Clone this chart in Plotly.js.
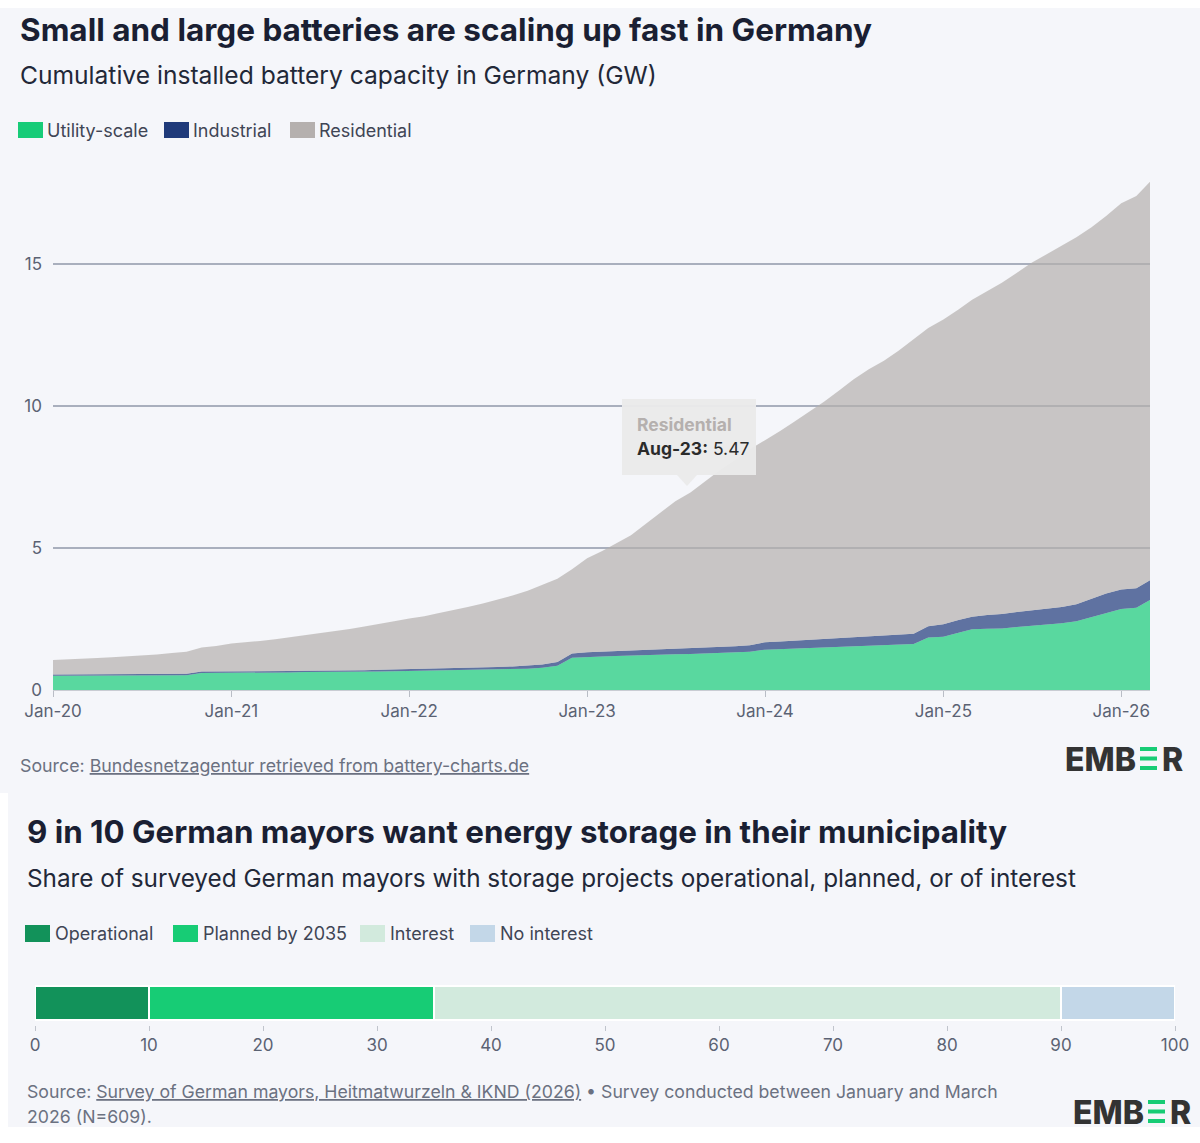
<!DOCTYPE html>
<html>
<head>
<meta charset="utf-8">
<script src="https://cdn.plot.ly/plotly-3.0.1.min.js"></script>
<style>
  html, body { margin: 0; padding: 0; background: #ffffff; }
  #chart { width: 1200px; height: 1143px; }
</style>
</head>
<body>
<div id="chart"></div>
<script>
// ---------------- DATA: chart 1 (monthly, Jan-2020 .. Mar-2026, GW) ----------------
const startYear = 2020;
const seriesNames = ['Utility-scale', 'Industrial', 'Residential'];
const utilityScale = [
  0.50, 0.50, 0.50, 0.50, 0.50, 0.51, 0.51, 0.51, 0.51, 0.52, 0.60, 0.60,
  0.61, 0.61, 0.62, 0.62, 0.62, 0.63, 0.63, 0.63, 0.64, 0.64, 0.65, 0.66,
  0.67, 0.67, 0.68, 0.69, 0.70, 0.71, 0.72, 0.73, 0.75, 0.78, 0.85, 1.14,
  1.17, 1.18, 1.20, 1.22, 1.23, 1.25, 1.26, 1.27, 1.29, 1.30, 1.31, 1.35,
  1.42, 1.44, 1.46, 1.47, 1.49, 1.50, 1.52, 1.54, 1.56, 1.58, 1.62, 1.85,
  1.88, 2.02, 2.14, 2.16, 2.17, 2.22, 2.26, 2.30, 2.35, 2.42, 2.56, 2.72,
  2.85, 2.90, 3.17
];
const industrial = [
  0.05, 0.05, 0.05, 0.05, 0.05, 0.05, 0.05, 0.05, 0.05, 0.05, 0.05, 0.05,
  0.05, 0.05, 0.05, 0.05, 0.05, 0.05, 0.05, 0.06, 0.06, 0.06, 0.06, 0.06,
  0.07, 0.07, 0.07, 0.07, 0.08, 0.09, 0.09, 0.10, 0.11, 0.12, 0.14, 0.15,
  0.16, 0.17, 0.18, 0.19, 0.20, 0.20, 0.21, 0.22, 0.21, 0.22, 0.23, 0.23,
  0.26, 0.27, 0.28, 0.30, 0.31, 0.33, 0.34, 0.35, 0.35, 0.36, 0.36, 0.40,
  0.44, 0.45, 0.44, 0.48, 0.51, 0.53, 0.54, 0.55, 0.57, 0.60, 0.64, 0.68,
  0.69, 0.68, 0.70
];
const residential = [
  0.51, 0.54, 0.56, 0.58, 0.60, 0.62, 0.65, 0.69, 0.74, 0.78, 0.85, 0.90,
  0.98, 1.02, 1.06, 1.12, 1.19, 1.24, 1.31, 1.38, 1.45, 1.54, 1.61, 1.70,
  1.78, 1.86, 1.95, 2.04, 2.14, 2.25, 2.37, 2.50, 2.64, 2.80, 2.93, 2.96,
  3.31, 3.55, 3.77, 4.04, 4.42, 4.80, 5.18, 5.47, 5.85, 6.23, 6.56, 6.90,
  7.12, 7.41, 7.71, 8.03, 8.35, 8.72, 9.09, 9.41, 9.69, 10.01, 10.37, 10.50,
  10.73, 10.93, 11.17, 11.41, 11.67, 11.95, 12.25, 12.50, 12.73, 12.93, 13.10, 13.30,
  13.61, 13.82, 14.03
];
const xTickLabels = ['Jan-20', 'Jan-21', 'Jan-22', 'Jan-23', 'Jan-24', 'Jan-25', 'Jan-26'];
const xTickDates  = ['2020-01-01', '2021-01-01', '2022-01-01', '2023-01-01', '2024-01-01', '2025-01-01', '2026-01-01'];
const yTickVals = [0, 5, 10, 15];
const tooltipLabel = 'Aug-23';
const tooltipIndex = 43;

// ---------------- DATA: chart 2 (survey shares, %) ----------------
const surveyCategories = ['Operational', 'Planned by 2035', 'Interest', 'No interest'];
const surveyShares = [10, 25, 55, 10];
const surveyTicks = [0, 10, 20, 30, 40, 50, 60, 70, 80, 90, 100];

// ---------------- STYLE ----------------
const seriesColors = ['#17cc78', '#1f3a7a', '#b5b0ae'];
const surveyColors = ['#12925a', '#17cc75', '#d2eadd', '#c3d7e8'];
const FONT = 'Inter, "Noto Sans", "DejaVu Sans", sans-serif';
const PANEL = '#f5f6fa';
const W = 1200, H = 1143;
const px = x => x / W;
const py = y => 1 - y / H;
function rgba(hex, a) {
  const n = parseInt(hex.slice(1), 16);
  return 'rgba(' + ((n >> 16) & 255) + ',' + ((n >> 8) & 255) + ',' + (n & 255) + ',' + a + ')';
}

const months = utilityScale.map((_, i) => {
  const y = startYear + Math.floor(i / 12), m = (i % 12) + 1;
  return y + '-' + String(m).padStart(2, '0') + '-01';
});

// ---------------- TRACES ----------------
const areaTraces = [utilityScale, industrial, residential].map((vals, i) => ({
  type: 'scatter', mode: 'lines', x: months, y: vals, stackgroup: 'battery',
  line: { width: 0 }, fillcolor: rgba(seriesColors[i], 0.7),
  name: seriesNames[i], showlegend: false, hoverinfo: 'skip',
  xaxis: 'x', yaxis: 'y'
}));

const barTraces = surveyCategories.map((c, i) => ({
  type: 'bar', orientation: 'h', x: [surveyShares[i]], y: ['Mayors'], name: c,
  width: 0.773, marker: { color: surveyColors[i], line: { color: '#ffffff', width: 1.5 } },
  showlegend: false, hoverinfo: 'skip', xaxis: 'x2', yaxis: 'y2'
}));

// ---------------- SHAPES & ANNOTATIONS ----------------
const shapes = [
  { type: 'rect', xref: 'paper', yref: 'paper', x0: px(0), x1: px(1200), y0: py(793), y1: py(8), fillcolor: PANEL, line: { width: 0 }, layer: 'below' },
  { type: 'rect', xref: 'paper', yref: 'paper', x0: px(8), x1: px(1200), y0: py(1127), y1: py(793), fillcolor: PANEL, line: { width: 0 }, layer: 'below' }
];
const annotations = [];
function text(x, y, t, size, color, weight, extra) {
  annotations.push(Object.assign({
    xref: 'paper', yref: 'paper', x: px(x), y: py(y), text: t, showarrow: false,
    xanchor: 'left', yanchor: 'middle', align: 'left',
    font: { family: FONT, size: size, color: color, weight: weight || 400 }
  }, extra || {}));
}
function rect(x0, y0, x1, y1, color, layer) {
  shapes.push({ type: 'rect', xref: 'paper', yref: 'paper', x0: px(x0), x1: px(x1), y0: py(y1), y1: py(y0),
    fillcolor: color, line: { width: 0 }, layer: layer || 'above' });
}
function logo(x0, yTop) {
  // E M B  + three green bars (the stylised E) + R
  const bx = x0 + 83;
  text(bx - 2, yTop + 12, 'EMB', 32, '#333333', 800, { xanchor: 'right' });
  rect(bx, yTop, bx + 17, yTop + 4, '#17cc75');
  rect(bx, yTop + 9.5, bx + 17, yTop + 13.5, '#17cc75');
  rect(bx, yTop + 19, bx + 17, yTop + 23, '#17cc75');
  text(bx + 20, yTop + 12, 'R', 32, '#333333', 800);
}

// Chart 1 texts
text(18, 29, 'Small and large batteries are scaling up fast in Germany', 31.5, '#1a1f33', 700);
text(18, 75, 'Cumulative installed battery capacity in Germany (GW)', 24.6, '#222838', 400);
const legend1X = [18, 164, 290];
seriesNames.forEach((n, i) => {
  rect(legend1X[i], 122, legend1X[i] + 25, 138, seriesColors[i]);
  text(legend1X[i] + 27, 130, n, 18, '#3f4555', 400);
});
text(18, 765, 'Source: <span style="text-decoration:underline">Bundesnetzagentur retrieved from battery-charts.de</span>', 17.8, '#6b7181', 400);
logo(1057, 747);

// Tooltip
rect(622, 399, 756, 475, 'rgba(234,234,234,0.96)');
shapes.push({ type: 'path', xref: 'paper', yref: 'paper',
  path: 'M ' + px(677) + ' ' + py(475) + ' L ' + px(697) + ' ' + py(475) + ' L ' + px(687) + ' ' + py(486) + ' Z',
  fillcolor: 'rgba(234,234,234,0.96)', line: { width: 0 }, layer: 'above' });
text(635, 424, seriesNames[2], 17.5, seriesColors[2], 700);
text(635, 449, '<b>' + tooltipLabel + ':</b> ' + residential[tooltipIndex].toFixed(2), 17.5, '#2b2b2b', 400);

// Chart 2 texts
text(25, 832, '9 in 10 German mayors want energy storage in their municipality', 31.3, '#1a1f33', 700);
text(25, 878, 'Share of surveyed German mayors with storage projects operational, planned, or of interest', 24.3, '#222838', 400);
const legend2X = [25, 173, 360, 470];
surveyCategories.forEach((n, i) => {
  rect(legend2X[i], 925, legend2X[i] + 25, 942, surveyColors[i]);
  text(legend2X[i] + 28, 933, n, 18, '#3f4555', 400);
});
text(25, 1091, 'Source: <span style="text-decoration:underline">Survey of German mayors, Heitmatwurzeln &amp; IKND (2026)</span> • Survey conducted between January and March', 17.7, '#6b7181', 400);
text(25, 1116, '2026 (N=609).', 17.7, '#6b7181', 400);
logo(1065, 1100);

// ---------------- LAYOUT ----------------
const tickFont = { family: FONT, size: 17, color: '#5b6273' };
const layout = {
  width: W, height: H, margin: { l: 0, r: 0, t: 0, b: 0 },
  paper_bgcolor: '#ffffff', plot_bgcolor: PANEL,
  hovermode: false, showlegend: false, barmode: 'stack',
  xaxis: {
    type: 'date', domain: [px(53), px(1150)], range: [months[0], months[months.length - 1]],
    tickvals: xTickDates, ticktext: xTickLabels, ticks: 'outside', ticklen: 6, tickwidth: 1,
    tickcolor: '#b9bdc6', showline: true, linecolor: '#c9ccd3', linewidth: 1,
    showgrid: false, zeroline: false, tickfont: tickFont, anchor: 'y', fixedrange: true
  },
  yaxis: {
    domain: [py(690), py(162)], range: [0, 18.6], tickvals: yTickVals,
    showgrid: true, gridcolor: '#a9afbd', gridwidth: 1.5, zeroline: false, showline: false,
    ticks: '', ticklabelstandoff: 10, tickfont: tickFont, anchor: 'x', fixedrange: true
  },
  xaxis2: {
    domain: [px(35), px(1175)], range: [0, 100], tickvals: surveyTicks,
    ticks: 'outside', ticklen: 5, tickwidth: 1, tickcolor: '#c0c4cc',
    showline: false, showgrid: false, zeroline: false, tickfont: tickFont, anchor: 'y2', fixedrange: true
  },
  yaxis2: {
    domain: [py(1025), py(981)], range: [-0.5, 0.5], visible: false, anchor: 'x2', fixedrange: true
  },
  shapes: shapes,
  annotations: annotations
};

Plotly.newPlot('chart', areaTraces.concat(barTraces), layout, { displayModeBar: false, staticPlot: true });
</script>
</body>
</html>
